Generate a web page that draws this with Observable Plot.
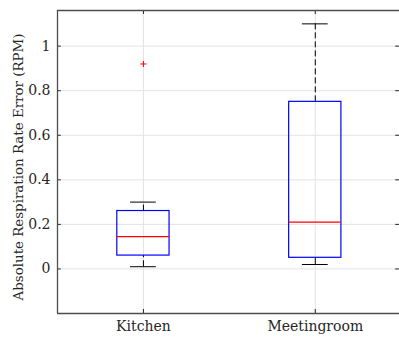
<!DOCTYPE html>
<html>
<head>
<meta charset="utf-8">
<script src="https://cdn.jsdelivr.net/npm/d3@7"></script>
<script src="https://cdn.jsdelivr.net/npm/@observablehq/plot@0.6"></script>
<style>
  html, body { margin: 0; padding: 0; background: #fff; }
  #chart svg { display: block; }
  #chart svg text { font-family: "DejaVu Serif", "Liberation Serif", serif !important; }
</style>
</head>
<body>
<div id="chart"></div>
<script>
const categories = ["Kitchen", "Meetingroom"];
const lowerWhisker = [0.01, 0.02];
const q1 = [0.06, 0.05];
const median = [0.145, 0.21];
const q3 = [0.26, 0.75];
const upperWhisker = [0.30, 1.10];
const outlierCategory = ["Kitchen"];
const outlierValue = [0.92];
const yTicks = [0, 0.2, 0.4, 0.6, 0.8, 1];
const yLabel = "Absolute Respiration Rate Error (RPM)";

const boxes = categories.map((c, i) => ({
  pos: i + 1, lo: lowerWhisker[i], q1: q1[i], med: median[i], q3: q3[i], hi: upperWhisker[i]
}));
const outliers = outlierCategory.map((c, i) => ({pos: categories.indexOf(c) + 1, v: outlierValue[i]}));

const xDomain = [0.5, 2.49];
const yDomain = [-0.2, 1.16];
const halfBox = 0.152, halfCap = 0.075, tickLenX = 0.022, tickLenY = 0.018;
const serif = "DejaVu Serif";

const chart = Plot.plot({
  width: 399,
  height: 337,
  marginLeft: 57,
  marginRight: 0,
  marginTop: 10,
  marginBottom: 24,
  style: {fontSize: "14px", background: "#fff", color: "#262626"},
  x: {domain: xDomain, axis: null},
  y: {domain: yDomain, axis: null},
  marks: [
    Plot.gridY(yTicks, {stroke: "#e3e3e3", strokeOpacity: 1}),
    Plot.gridX([1, 2], {stroke: "#e3e3e3", strokeOpacity: 1}),
    Plot.ruleY(yTicks, {y: d => d, x1: xDomain[0], x2: xDomain[0] + tickLenX, stroke: "#262626"}),
    Plot.ruleY(yTicks, {y: d => d, x1: xDomain[1], x2: xDomain[1] - tickLenX, stroke: "#262626"}),
    Plot.ruleX([1, 2], {x: d => d, y1: yDomain[0], y2: yDomain[0] + tickLenY, stroke: "#262626"}),
    Plot.ruleX([1, 2], {x: d => d, y1: yDomain[1], y2: yDomain[1] - tickLenY, stroke: "#262626"}),
    Plot.ruleX(boxes, {x: "pos", y1: "q3", y2: "hi", stroke: "#000", strokeDasharray: "6,3"}),
    Plot.ruleX(boxes, {x: "pos", y1: "lo", y2: "q1", stroke: "#000", strokeDasharray: "6,3"}),
    Plot.ruleY(boxes, {y: "hi", x1: d => d.pos - halfCap, x2: d => d.pos + halfCap, stroke: "#000"}),
    Plot.ruleY(boxes, {y: "lo", x1: d => d.pos - halfCap, x2: d => d.pos + halfCap, stroke: "#000"}),
    Plot.rect(boxes, {x1: d => d.pos - halfBox, x2: d => d.pos + halfBox, y1: "q1", y2: "q3", fill: "none", stroke: "#0000ff", strokeWidth: 1.2}),
    Plot.ruleY(boxes, {y: "med", x1: d => d.pos - halfBox, x2: d => d.pos + halfBox, stroke: "#ff0000", strokeWidth: 1.2}),
    Plot.dot(outliers, {x: "pos", y: "v", symbol: "plus", r: 2.1, stroke: "#ff0000", strokeWidth: 1}),
    Plot.ruleX([xDomain[0]], {stroke: "#4d4d4d", strokeWidth: 1.3}),
    Plot.ruleY([yDomain[0], yDomain[1]], {stroke: "#4d4d4d", strokeWidth: 1.3}),
    Plot.axisY(yTicks, {tickSize: 0, tickPadding: 7, tickFormat: d3.format("~g"), fontSize: 14, fontFamily: serif, fill: "#262626", label: null}),
    Plot.text([yLabel], {frameAnchor: "left", textAnchor: "middle", rotate: -90, dx: -39, dy: 5, fontSize: 13.4, fontFamily: serif, fill: "#262626", text: d => d}),
    Plot.axisX([1, 2], {tickSize: 0, tickPadding: 8, tickFormat: d => categories[d - 1], fontSize: 14, fontFamily: serif, fill: "#262626", label: null})
  ]
});
document.getElementById("chart").appendChild(chart);
</script>
</body>
</html>
